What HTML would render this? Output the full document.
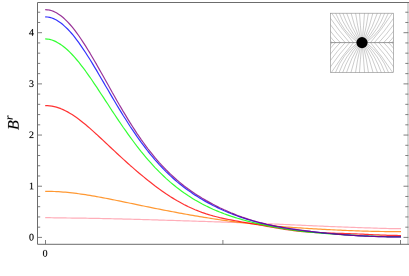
<!DOCTYPE html><html><head><meta charset="utf-8"><style>html,body{margin:0;padding:0;background:#fff;}body{width:409px;height:276px;overflow:hidden;position:relative;font-family:"Liberation Serif",serif;}</style></head><body><svg width="409" height="276" viewBox="0 0 409 276" style="position:absolute;left:0;top:0">
<rect x="0" y="0" width="409" height="276" fill="#fff"/>
<g>
<path d="M45.2 217.7 L47.4 217.71 L49.7 217.72 L51.9 217.75 L54.2 217.78 L56.4 217.82 L58.6 217.86 L60.9 217.89 L63.1 217.93 L65.3 217.96 L67.6 217.99 L69.8 218.01 L72.1 218.04 L74.3 218.07 L76.5 218.1 L78.8 218.13 L81.0 218.16 L83.2 218.19 L85.5 218.22 L87.7 218.26 L90.0 218.3 L92.2 218.34 L94.4 218.38 L96.7 218.42 L98.9 218.46 L101.1 218.51 L103.4 218.55 L105.6 218.6 L107.9 218.65 L110.1 218.7 L112.3 218.75 L114.6 218.81 L116.8 218.86 L119.0 218.92 L121.3 218.97 L123.5 219.03 L125.8 219.09 L128.0 219.15 L130.2 219.21 L132.5 219.27 L134.7 219.33 L136.9 219.39 L139.2 219.45 L141.4 219.52 L143.7 219.58 L145.9 219.64 L148.1 219.71 L150.4 219.77 L152.6 219.84 L154.8 219.91 L157.1 219.97 L159.3 220.04 L161.6 220.11 L163.8 220.18 L166.0 220.25 L168.3 220.31 L170.5 220.38 L172.8 220.45 L175.0 220.52 L177.2 220.59 L179.5 220.66 L181.7 220.73 L183.9 220.8 L186.2 220.87 L188.4 220.94 L190.7 221.01 L192.9 221.08 L195.1 221.16 L197.4 221.23 L199.6 221.3 L201.8 221.37 L204.1 221.45 L206.3 221.52 L208.6 221.59 L210.8 221.67 L213.0 221.74 L215.3 221.82 L217.5 221.89 L219.7 221.97 L222.0 222.05 L224.2 222.12 L226.5 222.2 L228.7 222.28 L230.9 222.36 L233.2 222.44 L235.4 222.52 L237.6 222.6 L239.9 222.68 L242.1 222.77 L244.4 222.85 L246.6 222.93 L248.8 223.02 L251.1 223.11 L253.3 223.19 L255.5 223.28 L257.8 223.37 L260.0 223.46 L262.3 223.55 L264.5 223.64 L266.7 223.73 L269.0 223.83 L271.2 223.92 L273.4 224.02 L275.7 224.11 L277.9 224.21 L280.2 224.3 L282.4 224.4 L284.6 224.5 L286.9 224.6 L289.1 224.7 L291.4 224.8 L293.6 224.9 L295.8 225.0 L298.1 225.1 L300.3 225.2 L302.5 225.3 L304.8 225.4 L307.0 225.5 L309.3 225.6 L311.5 225.7 L313.7 225.8 L316.0 225.9 L318.2 226.0 L320.4 226.1 L322.7 226.2 L324.9 226.3 L327.2 226.39 L329.4 226.49 L331.6 226.58 L333.9 226.67 L336.1 226.76 L338.3 226.85 L340.6 226.94 L342.8 227.02 L345.1 227.11 L347.3 227.19 L349.5 227.27 L351.8 227.35 L354.0 227.43 L356.2 227.5 L358.5 227.58 L360.7 227.65 L363.0 227.73 L365.2 227.8 L367.4 227.88 L369.7 227.95 L371.9 228.02 L374.1 228.1 L376.4 228.17 L378.6 228.24 L380.9 228.32 L383.1 228.38 L385.3 228.45 L387.6 228.51 L389.8 228.56 L392.0 228.61 L394.3 228.65 L396.5 228.68 L398.8 228.69 L401.0 228.7" fill="none" stroke="#ff9aa8" stroke-width="1.2" stroke-opacity="0.8" stroke-linejoin="round"/>
<path d="M45.2 191.3 L47.4 191.31 L49.7 191.35 L51.9 191.41 L54.2 191.49 L56.4 191.59 L58.6 191.72 L60.9 191.86 L63.1 192.03 L65.3 192.22 L67.6 192.42 L69.8 192.65 L72.1 192.89 L74.3 193.16 L76.5 193.43 L78.8 193.73 L81.0 194.04 L83.2 194.37 L85.5 194.7 L87.7 195.06 L90.0 195.42 L92.2 195.8 L94.4 196.19 L96.7 196.58 L98.9 196.99 L101.1 197.4 L103.4 197.83 L105.6 198.26 L107.9 198.69 L110.1 199.13 L112.3 199.58 L114.6 200.03 L116.8 200.48 L119.0 200.94 L121.3 201.4 L123.5 201.86 L125.8 202.32 L128.0 202.78 L130.2 203.24 L132.5 203.71 L134.7 204.17 L136.9 204.64 L139.2 205.1 L141.4 205.56 L143.7 206.02 L145.9 206.48 L148.1 206.93 L150.4 207.39 L152.6 207.84 L154.8 208.29 L157.1 208.74 L159.3 209.18 L161.6 209.62 L163.8 210.06 L166.0 210.5 L168.3 210.93 L170.5 211.36 L172.8 211.78 L175.0 212.2 L177.2 212.62 L179.5 213.04 L181.7 213.45 L183.9 213.85 L186.2 214.25 L188.4 214.65 L190.7 215.05 L192.9 215.43 L195.1 215.82 L197.4 216.2 L199.6 216.57 L201.8 216.95 L204.1 217.31 L206.3 217.67 L208.6 218.03 L210.8 218.38 L213.0 218.72 L215.3 219.06 L217.5 219.4 L219.7 219.73 L222.0 220.05 L224.2 220.37 L226.5 220.68 L228.7 220.99 L230.9 221.29 L233.2 221.59 L235.4 221.88 L237.6 222.16 L239.9 222.44 L242.1 222.71 L244.4 222.98 L246.6 223.24 L248.8 223.5 L251.1 223.75 L253.3 223.99 L255.5 224.23 L257.8 224.46 L260.0 224.69 L262.3 224.91 L264.5 225.13 L266.7 225.34 L269.0 225.54 L271.2 225.74 L273.4 225.94 L275.7 226.13 L277.9 226.32 L280.2 226.5 L282.4 226.68 L284.6 226.85 L286.9 227.02 L289.1 227.19 L291.4 227.35 L293.6 227.51 L295.8 227.66 L298.1 227.81 L300.3 227.96 L302.5 228.11 L304.8 228.25 L307.0 228.39 L309.3 228.53 L311.5 228.66 L313.7 228.79 L316.0 228.92 L318.2 229.05 L320.4 229.17 L322.7 229.3 L324.9 229.42 L327.2 229.53 L329.4 229.65 L331.6 229.76 L333.9 229.87 L336.1 229.98 L338.3 230.09 L340.6 230.19 L342.8 230.29 L345.1 230.39 L347.3 230.49 L349.5 230.58 L351.8 230.67 L354.0 230.76 L356.2 230.84 L358.5 230.92 L360.7 231.0 L363.0 231.07 L365.2 231.14 L367.4 231.2 L369.7 231.26 L371.9 231.31 L374.1 231.36 L376.4 231.4 L378.6 231.44 L380.9 231.48 L383.1 231.51 L385.3 231.53 L387.6 231.55 L389.8 231.57 L392.0 231.58 L394.3 231.59 L396.5 231.59 L398.8 231.6 L401.0 231.6" fill="none" stroke="#ff8000" stroke-width="1.2" stroke-opacity="0.8" stroke-linejoin="round"/>
<path d="M45.2 105.6 L47.4 105.66 L49.7 105.85 L51.9 106.16 L54.2 106.6 L56.4 107.16 L58.6 107.86 L60.9 108.68 L63.1 109.63 L65.3 110.69 L67.6 111.87 L69.8 113.16 L72.1 114.54 L74.3 116.02 L76.5 117.59 L78.8 119.24 L81.0 120.95 L83.2 122.74 L85.5 124.58 L87.7 126.47 L90.0 128.41 L92.2 130.38 L94.4 132.39 L96.7 134.43 L98.9 136.49 L101.1 138.56 L103.4 140.65 L105.6 142.75 L107.9 144.85 L110.1 146.95 L112.3 149.05 L114.6 151.14 L116.8 153.22 L119.0 155.3 L121.3 157.36 L123.5 159.4 L125.8 161.43 L128.0 163.44 L130.2 165.43 L132.5 167.4 L134.7 169.34 L136.9 171.27 L139.2 173.17 L141.4 175.05 L143.7 176.9 L145.9 178.72 L148.1 180.52 L150.4 182.29 L152.6 184.03 L154.8 185.73 L157.1 187.41 L159.3 189.05 L161.6 190.66 L163.8 192.23 L166.0 193.76 L168.3 195.25 L170.5 196.71 L172.8 198.12 L175.0 199.49 L177.2 200.81 L179.5 202.1 L181.7 203.33 L183.9 204.52 L186.2 205.66 L188.4 206.76 L190.7 207.81 L192.9 208.81 L195.1 209.77 L197.4 210.68 L199.6 211.55 L201.8 212.37 L204.1 213.15 L206.3 213.89 L208.6 214.59 L210.8 215.25 L213.0 215.88 L215.3 216.47 L217.5 217.04 L219.7 217.58 L222.0 218.09 L224.2 218.58 L226.5 219.05 L228.7 219.5 L230.9 219.94 L233.2 220.37 L235.4 220.78 L237.6 221.19 L239.9 221.59 L242.1 221.99 L244.4 222.39 L246.6 222.78 L248.8 223.17 L251.1 223.56 L253.3 223.95 L255.5 224.35 L257.8 224.74 L260.0 225.14 L262.3 225.53 L264.5 225.93 L266.7 226.33 L269.0 226.72 L271.2 227.11 L273.4 227.49 L275.7 227.87 L277.9 228.25 L280.2 228.61 L282.4 228.97 L284.6 229.31 L286.9 229.64 L289.1 229.96 L291.4 230.26 L293.6 230.55 L295.8 230.82 L298.1 231.08 L300.3 231.32 L302.5 231.54 L304.8 231.75 L307.0 231.94 L309.3 232.11 L311.5 232.27 L313.7 232.41 L316.0 232.54 L318.2 232.65 L320.4 232.76 L322.7 232.85 L324.9 232.94 L327.2 233.01 L329.4 233.08 L331.6 233.15 L333.9 233.21 L336.1 233.28 L338.3 233.34 L340.6 233.4 L342.8 233.46 L345.1 233.53 L347.3 233.6 L349.5 233.67 L351.8 233.75 L354.0 233.83 L356.2 233.92 L358.5 234.01 L360.7 234.1 L363.0 234.2 L365.2 234.3 L367.4 234.41 L369.7 234.52 L371.9 234.62 L374.1 234.73 L376.4 234.83 L378.6 234.93 L380.9 235.03 L383.1 235.12 L385.3 235.2 L387.6 235.28 L389.8 235.34 L392.0 235.4 L394.3 235.44 L396.5 235.47 L398.8 235.49 L401.0 235.5" fill="none" stroke="#ff0000" stroke-width="1.2" stroke-opacity="0.8" stroke-linejoin="round"/>
<path d="M45.2 38.9 L47.4 39.03 L49.7 39.4 L51.9 40.01 L54.2 40.85 L56.4 41.91 L58.6 43.17 L60.9 44.62 L63.1 46.26 L65.3 48.07 L67.6 50.05 L69.8 52.19 L72.1 54.48 L74.3 56.92 L76.5 59.49 L78.8 62.2 L81.0 65.02 L83.2 67.95 L85.5 70.98 L87.7 74.09 L90.0 77.28 L92.2 80.53 L94.4 83.83 L96.7 87.18 L98.9 90.57 L101.1 93.98 L103.4 97.41 L105.6 100.84 L107.9 104.27 L110.1 107.7 L112.3 111.11 L114.6 114.5 L116.8 117.87 L119.0 121.2 L121.3 124.49 L123.5 127.74 L125.8 130.95 L128.0 134.11 L130.2 137.21 L132.5 140.26 L134.7 143.25 L136.9 146.18 L139.2 149.05 L141.4 151.86 L143.7 154.6 L145.9 157.27 L148.1 159.88 L150.4 162.43 L152.6 164.9 L154.8 167.32 L157.1 169.66 L159.3 171.94 L161.6 174.15 L163.8 176.3 L166.0 178.38 L168.3 180.4 L170.5 182.35 L172.8 184.24 L175.0 186.08 L177.2 187.85 L179.5 189.56 L181.7 191.22 L183.9 192.82 L186.2 194.37 L188.4 195.86 L190.7 197.3 L192.9 198.69 L195.1 200.04 L197.4 201.33 L199.6 202.58 L201.8 203.79 L204.1 204.95 L206.3 206.07 L208.6 207.15 L210.8 208.2 L213.0 209.2 L215.3 210.18 L217.5 211.11 L219.7 212.02 L222.0 212.9 L224.2 213.74 L226.5 214.56 L228.7 215.35 L230.9 216.12 L233.2 216.86 L235.4 217.58 L237.6 218.28 L239.9 218.95 L242.1 219.6 L244.4 220.24 L246.6 220.85 L248.8 221.45 L251.1 222.03 L253.3 222.59 L255.5 223.14 L257.8 223.67 L260.0 224.18 L262.3 224.68 L264.5 225.16 L266.7 225.63 L269.0 226.08 L271.2 226.52 L273.4 226.95 L275.7 227.36 L277.9 227.76 L280.2 228.15 L282.4 228.52 L284.6 228.88 L286.9 229.23 L289.1 229.56 L291.4 229.88 L293.6 230.19 L295.8 230.49 L298.1 230.78 L300.3 231.06 L302.5 231.32 L304.8 231.58 L307.0 231.82 L309.3 232.06 L311.5 232.28 L313.7 232.5 L316.0 232.71 L318.2 232.91 L320.4 233.1 L322.7 233.29 L324.9 233.47 L327.2 233.64 L329.4 233.81 L331.6 233.97 L333.9 234.13 L336.1 234.28 L338.3 234.43 L340.6 234.57 L342.8 234.71 L345.1 234.84 L347.3 234.97 L349.5 235.1 L351.8 235.22 L354.0 235.34 L356.2 235.46 L358.5 235.57 L360.7 235.68 L363.0 235.78 L365.2 235.88 L367.4 235.97 L369.7 236.06 L371.9 236.15 L374.1 236.23 L376.4 236.3 L378.6 236.37 L380.9 236.43 L383.1 236.49 L385.3 236.54 L387.6 236.58 L389.8 236.62 L392.0 236.65 L394.3 236.67 L396.5 236.69 L398.8 236.7 L401.0 236.7" fill="none" stroke="#00ff00" stroke-width="1.2" stroke-opacity="0.8" stroke-linejoin="round"/>
<path d="M45.2 16.85 L47.4 16.98 L49.7 17.37 L51.9 18.02 L54.2 18.92 L56.4 20.05 L58.6 21.42 L60.9 23.01 L63.1 24.82 L65.3 26.82 L67.6 29.02 L69.8 31.41 L72.1 33.98 L74.3 36.71 L76.5 39.6 L78.8 42.63 L81.0 45.8 L83.2 49.08 L85.5 52.48 L87.7 55.97 L90.0 59.54 L92.2 63.18 L94.4 66.89 L96.7 70.64 L98.9 74.44 L101.1 78.26 L103.4 82.09 L105.6 85.94 L107.9 89.78 L110.1 93.61 L112.3 97.42 L114.6 101.21 L116.8 104.97 L119.0 108.68 L121.3 112.36 L123.5 115.98 L125.8 119.55 L128.0 123.05 L130.2 126.5 L132.5 129.88 L134.7 133.19 L136.9 136.43 L139.2 139.59 L141.4 142.69 L143.7 145.7 L145.9 148.64 L148.1 151.5 L150.4 154.28 L152.6 156.98 L154.8 159.61 L157.1 162.16 L159.3 164.63 L161.6 167.03 L163.8 169.36 L166.0 171.61 L168.3 173.79 L170.5 175.91 L172.8 177.95 L175.0 179.93 L177.2 181.85 L179.5 183.7 L181.7 185.5 L183.9 187.24 L186.2 188.92 L188.4 190.55 L190.7 192.12 L192.9 193.65 L195.1 195.13 L197.4 196.56 L199.6 197.95 L201.8 199.3 L204.1 200.61 L206.3 201.87 L208.6 203.1 L210.8 204.29 L213.0 205.44 L215.3 206.57 L217.5 207.65 L219.7 208.71 L222.0 209.73 L224.2 210.72 L226.5 211.68 L228.7 212.61 L230.9 213.52 L233.2 214.39 L235.4 215.24 L237.6 216.06 L239.9 216.85 L242.1 217.62 L244.4 218.36 L246.6 219.07 L248.8 219.76 L251.1 220.43 L253.3 221.07 L255.5 221.69 L257.8 222.29 L260.0 222.86 L262.3 223.41 L264.5 223.95 L266.7 224.46 L269.0 224.95 L271.2 225.42 L273.4 225.88 L275.7 226.32 L277.9 226.74 L280.2 227.14 L282.4 227.54 L284.6 227.91 L286.9 228.28 L289.1 228.63 L291.4 228.97 L293.6 229.3 L295.8 229.62 L298.1 229.92 L300.3 230.22 L302.5 230.52 L304.8 230.8 L307.0 231.07 L309.3 231.34 L311.5 231.6 L313.7 231.86 L316.0 232.11 L318.2 232.35 L320.4 232.59 L322.7 232.82 L324.9 233.04 L327.2 233.26 L329.4 233.48 L331.6 233.68 L333.9 233.88 L336.1 234.08 L338.3 234.27 L340.6 234.45 L342.8 234.63 L345.1 234.8 L347.3 234.97 L349.5 235.12 L351.8 235.28 L354.0 235.42 L356.2 235.56 L358.5 235.69 L360.7 235.81 L363.0 235.93 L365.2 236.04 L367.4 236.14 L369.7 236.24 L371.9 236.33 L374.1 236.42 L376.4 236.49 L378.6 236.56 L380.9 236.63 L383.1 236.68 L385.3 236.73 L387.6 236.78 L389.8 236.81 L392.0 236.85 L394.3 236.87 L396.5 236.89 L398.8 236.9 L401.0 236.9" fill="none" stroke="#0000ff" stroke-width="1.2" stroke-opacity="0.8" stroke-linejoin="round"/>
<path d="M45.2 9.65 L47.4 9.78 L49.7 10.16 L51.9 10.79 L54.2 11.66 L56.4 12.79 L58.6 14.15 L60.9 15.74 L63.1 17.56 L65.3 19.59 L67.6 21.83 L69.8 24.26 L72.1 26.89 L74.3 29.69 L76.5 32.65 L78.8 35.76 L81.0 39.02 L83.2 42.4 L85.5 45.9 L87.7 49.5 L90.0 53.19 L92.2 56.95 L94.4 60.79 L96.7 64.68 L98.9 68.61 L101.1 72.58 L103.4 76.57 L105.6 80.57 L107.9 84.57 L110.1 88.56 L112.3 92.54 L114.6 96.49 L116.8 100.42 L119.0 104.3 L121.3 108.14 L123.5 111.93 L125.8 115.66 L128.0 119.33 L130.2 122.93 L132.5 126.47 L134.7 129.93 L136.9 133.31 L139.2 136.62 L141.4 139.84 L143.7 142.98 L145.9 146.04 L148.1 149.01 L150.4 151.9 L152.6 154.7 L154.8 157.42 L157.1 160.05 L159.3 162.6 L161.6 165.07 L163.8 167.46 L166.0 169.77 L168.3 172.01 L170.5 174.17 L172.8 176.26 L175.0 178.28 L177.2 180.23 L179.5 182.12 L181.7 183.94 L183.9 185.71 L186.2 187.42 L188.4 189.07 L190.7 190.67 L192.9 192.23 L195.1 193.73 L197.4 195.2 L199.6 196.61 L201.8 197.99 L204.1 199.33 L206.3 200.63 L208.6 201.89 L210.8 203.12 L213.0 204.32 L215.3 205.48 L217.5 206.61 L219.7 207.71 L222.0 208.78 L224.2 209.81 L226.5 210.82 L228.7 211.8 L230.9 212.75 L233.2 213.68 L235.4 214.57 L237.6 215.44 L239.9 216.27 L242.1 217.08 L244.4 217.86 L246.6 218.62 L248.8 219.34 L251.1 220.04 L253.3 220.72 L255.5 221.36 L257.8 221.98 L260.0 222.58 L262.3 223.15 L264.5 223.7 L266.7 224.23 L269.0 224.73 L271.2 225.21 L273.4 225.68 L275.7 226.12 L277.9 226.55 L280.2 226.96 L282.4 227.35 L284.6 227.73 L286.9 228.1 L289.1 228.45 L291.4 228.8 L293.6 229.13 L295.8 229.45 L298.1 229.76 L300.3 230.07 L302.5 230.36 L304.8 230.65 L307.0 230.94 L309.3 231.22 L311.5 231.49 L313.7 231.76 L316.0 232.02 L318.2 232.27 L320.4 232.52 L322.7 232.77 L324.9 233.01 L327.2 233.24 L329.4 233.47 L331.6 233.69 L333.9 233.91 L336.1 234.12 L338.3 234.32 L340.6 234.51 L342.8 234.7 L345.1 234.88 L347.3 235.05 L349.5 235.21 L351.8 235.37 L354.0 235.51 L356.2 235.65 L358.5 235.78 L360.7 235.9 L363.0 236.01 L365.2 236.12 L367.4 236.21 L369.7 236.3 L371.9 236.39 L374.1 236.46 L376.4 236.53 L378.6 236.6 L380.9 236.65 L383.1 236.7 L385.3 236.75 L387.6 236.79 L389.8 236.82 L392.0 236.85 L394.3 236.87 L396.5 236.89 L398.8 236.9 L401.0 236.9" fill="none" stroke="#800080" stroke-width="1.2" stroke-opacity="0.8" stroke-linejoin="round"/>
</g>
<rect x="407" y="2.5" width="2" height="241.8" fill="#d6d6d6"/>
<path d="M409 2.5H37.5V244.3H409" fill="none" stroke="#6c6c6c" stroke-width="1"/>
<path d="M37.5 237.40h4.5M408.4 237.40h-4.9M37.5 227.17h2.7M408.4 227.17h-3.1M37.5 216.93h2.7M408.4 216.93h-3.1M37.5 206.69h2.7M408.4 206.69h-3.1M37.5 196.46h2.7M408.4 196.46h-3.1M37.5 186.23h4.5M408.4 186.23h-4.9M37.5 175.99h2.7M408.4 175.99h-3.1M37.5 165.75h2.7M408.4 165.75h-3.1M37.5 155.52h2.7M408.4 155.52h-3.1M37.5 145.29h2.7M408.4 145.29h-3.1M37.5 135.05h4.5M408.4 135.05h-4.9M37.5 124.82h2.7M408.4 124.82h-3.1M37.5 114.58h2.7M408.4 114.58h-3.1M37.5 104.34h2.7M408.4 104.34h-3.1M37.5 94.11h2.7M408.4 94.11h-3.1M37.5 83.88h4.5M408.4 83.88h-4.9M37.5 73.64h2.7M408.4 73.64h-3.1M37.5 63.41h2.7M408.4 63.41h-3.1M37.5 53.17h2.7M408.4 53.17h-3.1M37.5 42.94h2.7M408.4 42.94h-3.1M37.5 32.70h4.5M408.4 32.70h-4.9M37.5 22.47h2.7M408.4 22.47h-3.1M37.5 12.23h2.7M408.4 12.23h-3.1M45.5 244.3v-4.3M222.9 244.3v-4.3M400.5 244.3v-4.3" fill="none" stroke="#707070" stroke-width="0.9"/>
<clipPath id="c"><rect x="330.4" y="13.2" width="63.10000000000002" height="59.3"/></clipPath>
<g clip-path="url(#c)"><path d="M362.54 37.77Q363.66 25.50 364.50 13.20L364.64 11.20M362.54 47.43Q363.66 59.70 364.50 72.00L364.64 74.00M361.46 37.77Q360.34 25.50 359.50 13.20L359.36 11.20M361.46 47.43Q360.34 59.70 359.50 72.00L359.36 74.00M363.61 38.01Q366.63 25.74 368.40 13.20L368.68 11.22M363.61 47.19Q366.63 59.46 368.40 72.00L368.68 73.98M360.39 38.01Q357.37 25.74 355.60 13.20L355.32 11.22M360.39 47.19Q357.37 59.46 355.60 72.00L355.32 73.98M364.59 38.48Q369.80 26.24 372.90 13.20L373.36 11.25M364.59 46.72Q369.80 58.96 372.90 72.00L373.36 73.95M359.41 38.48Q354.20 26.24 351.10 13.20L350.64 11.25M359.41 46.72Q354.20 58.96 351.10 72.00L350.64 73.95M365.44 39.16Q372.94 27.02 377.30 13.20L377.90 11.29M365.44 46.04Q372.94 58.18 377.30 72.00L377.90 73.91M358.56 39.16Q351.06 27.02 346.70 13.20L346.10 11.29M358.56 46.04Q351.06 58.18 346.70 72.00L346.10 73.91M366.12 40.01Q375.83 28.12 381.10 13.20L381.77 11.31M366.12 45.19Q375.83 57.08 381.10 72.00L381.77 73.89M357.88 40.01Q348.17 28.12 342.90 13.20L342.23 11.31M357.88 45.19Q348.17 57.08 342.90 72.00L342.23 73.89M366.59 40.99Q378.57 29.53 384.70 13.20L385.40 11.33M366.59 44.21Q378.57 55.67 384.70 72.00L385.40 73.87M357.41 40.99Q345.43 29.53 339.30 13.20L338.60 11.33M357.41 44.21Q345.43 55.67 339.30 72.00L338.60 73.87M366.83 42.06Q381.21 31.25 388.30 13.20L389.03 11.34M366.83 43.14Q381.21 53.95 388.30 72.00L389.03 73.86M357.17 42.06Q342.79 31.25 335.70 13.20L334.97 11.34M357.17 43.14Q342.79 53.95 335.70 72.00L334.97 73.86M370.50 42.60Q382.40 28.70 392.30 13.20L393.38 11.51M370.50 42.60Q382.40 56.50 392.30 72.00L393.38 73.69M353.50 42.60Q341.60 28.70 331.70 13.20L330.62 11.51M353.50 42.60Q341.60 56.50 331.70 72.00L330.62 73.69M374.40 42.60Q384.77 31.20 393.50 18.40L394.63 16.75M374.40 42.60Q384.77 54.00 393.50 66.80L394.63 68.45M349.60 42.60Q339.23 31.20 330.50 18.40L329.37 16.75M349.60 42.60Q339.23 54.00 330.50 66.80L329.37 68.45M378.80 42.60Q386.75 34.23 393.50 24.80L394.66 23.17M378.80 42.60Q386.75 50.97 393.50 60.40L394.66 62.03M345.20 42.60Q337.25 34.23 330.50 24.80L329.34 23.17M345.20 42.60Q337.25 50.97 330.50 60.40L329.34 62.03M383.70 42.60Q388.99 37.26 393.50 31.20L394.70 29.60M383.70 42.60Q388.99 47.94 393.50 54.00L394.70 55.60M340.30 42.60Q335.01 37.26 330.50 31.20L329.30 29.60M340.30 42.60Q335.01 47.94 330.50 54.00L329.30 55.60M388.50 42.60Q391.19 39.98 393.50 37.00L394.73 35.42M388.50 42.60Q391.19 45.22 393.50 48.20L394.73 49.78M335.50 42.60Q332.81 39.98 330.50 37.00L329.27 35.42M335.50 42.60Q332.81 45.22 330.50 48.20L329.27 49.78M392.00 42.60Q392.82 41.60 393.50 40.50L394.55 38.80M392.00 42.60Q392.82 43.60 393.50 44.70L394.55 46.40M332.00 42.60Q331.18 41.60 330.50 40.50L329.45 38.80M332.00 42.60Q331.18 43.60 330.50 44.70L329.45 46.40" fill="none" stroke="#787878" stroke-width="0.38"/></g>
<path d="M330.4 42.6H393.5" stroke="#707070" stroke-width="0.7"/>
<rect x="330.4" y="13.2" width="63.10000000000002" height="59.3" fill="none" stroke="#888" stroke-width="0.6"/>
<circle cx="362.0" cy="42.6" r="5.6" fill="#000"/>
<path transform="translate(29.00 240.40) scale(0.00488 -0.00488)" d="M946 676Q946 -20 506 -20Q294 -20 186.0 158.0Q78 336 78 676Q78 1009 186.0 1185.5Q294 1362 514 1362Q726 1362 836.0 1187.5Q946 1013 946 676ZM762 676Q762 998 701.0 1140.0Q640 1282 506 1282Q376 1282 319.0 1148.0Q262 1014 262 676Q262 336 320.0 197.5Q378 59 506 59Q638 59 700.0 204.5Q762 350 762 676Z" fill="#000" stroke="#000" stroke-width="31"/>
<path transform="translate(29.00 189.23) scale(0.00488 -0.00488)" d="M627 80 901 53V0H180V53L455 80V1174L184 1077V1130L575 1352H627Z" fill="#000" stroke="#000" stroke-width="31"/>
<path transform="translate(29.00 138.05) scale(0.00488 -0.00488)" d="M911 0H90V147L276 316Q455 473 539.0 570.0Q623 667 659.5 770.0Q696 873 696 1006Q696 1136 637.0 1204.0Q578 1272 444 1272Q391 1272 335.0 1257.5Q279 1243 236 1219L201 1055H135V1313Q317 1356 444 1356Q664 1356 774.5 1264.5Q885 1173 885 1006Q885 894 841.5 794.5Q798 695 708.0 596.5Q618 498 410 321Q321 245 221 154H911Z" fill="#000" stroke="#000" stroke-width="31"/>
<path transform="translate(29.00 86.88) scale(0.00488 -0.00488)" d="M944 365Q944 184 820.0 82.0Q696 -20 469 -20Q279 -20 109 23L98 305H164L209 117Q248 95 319.5 79.0Q391 63 453 63Q610 63 685.0 135.0Q760 207 760 375Q760 507 691.0 575.5Q622 644 477 651L334 659V741L477 750Q590 756 644.0 820.0Q698 884 698 1014Q698 1149 639.5 1210.5Q581 1272 453 1272Q400 1272 342.0 1257.5Q284 1243 240 1219L205 1055H139V1313Q238 1339 310.0 1347.5Q382 1356 453 1356Q883 1356 883 1026Q883 887 806.5 804.5Q730 722 590 702Q772 681 858.0 597.5Q944 514 944 365Z" fill="#000" stroke="#000" stroke-width="31"/>
<path transform="translate(29.00 35.70) scale(0.00488 -0.00488)" d="M810 295V0H638V295H40V428L695 1348H810V438H992V295ZM638 1113H633L153 438H638Z" fill="#000" stroke="#000" stroke-width="31"/>
<path transform="translate(42.60 256.60) scale(0.00488 -0.00488)" d="M946 676Q946 -20 506 -20Q294 -20 186.0 158.0Q78 336 78 676Q78 1009 186.0 1185.5Q294 1362 514 1362Q726 1362 836.0 1187.5Q946 1013 946 676ZM762 676Q762 998 701.0 1140.0Q640 1282 506 1282Q376 1282 319.0 1148.0Q262 1014 262 676Q262 336 320.0 197.5Q378 59 506 59Q638 59 700.0 204.5Q762 350 762 676Z" fill="#000" stroke="#000" stroke-width="31"/>
<g transform="translate(18.6 130) rotate(-90)"><path transform="translate(0.00 0.00) scale(0.00781 -0.00781)" d="M639 754Q833 754 915.5 819.0Q998 884 998 1047Q998 1151 933.0 1201.0Q868 1251 719 1251H561L473 754ZM615 84Q807 84 897.0 158.5Q987 233 987 406Q987 542 898.5 603.0Q810 664 643 664H457L357 90Q510 84 615 84ZM19 0 29 53 162 80 371 1262 203 1288 213 1341H764Q1206 1341 1206 1059Q1206 918 1117.5 826.0Q1029 734 871 713Q1026 700 1111.0 620.5Q1196 541 1196 410Q1196 195 1050.5 94.5Q905 -6 615 -6L232 0Z" fill="#000" stroke="#000" stroke-width="19"/><path transform="translate(10.07 -6.00) scale(0.00537 -0.00537)" d="M724 965Q774 965 803 957L759 711H716L678 838Q598 838 512.5 777.0Q427 716 356 616L249 0H83L236 870L118 895L126 940H403L372 728Q447 841 539.5 903.0Q632 965 724 965Z" fill="#000" stroke="#000" stroke-width="28"/></g>
</svg></body></html>
